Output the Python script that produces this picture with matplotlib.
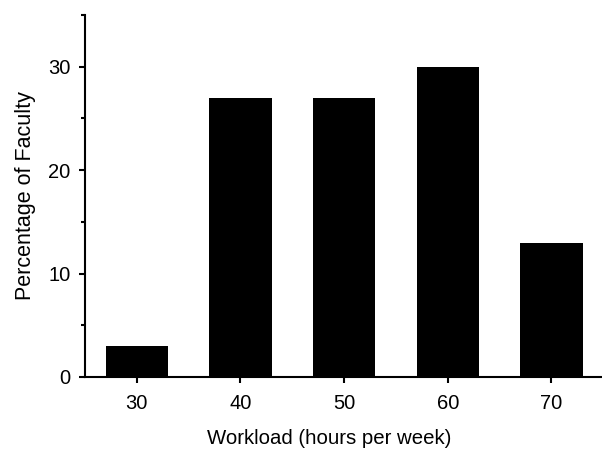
import matplotlib
matplotlib.use("Agg")
import matplotlib.pyplot as plt
from matplotlib.ticker import MultipleLocator

# workload bins (hours per week) and share of faculty (%)
workload = [30, 40, 50, 60, 70]
percent = [3, 27, 27, 30, 13]

plt.rcParams['font.family'] = ['Liberation Sans', 'DejaVu Sans']

fig = plt.figure(figsize=(6.02, 4.49), dpi=100)
ax = fig.add_axes([0.1412, 0.1604, 0.861, 0.8062])

ax.bar(workload, percent, width=6, color='black', edgecolor='none')

ax.set_xlim(25, 75)
ax.set_ylim(0, 35)
ax.set_xticks(workload)
ax.yaxis.set_major_locator(MultipleLocator(10))
ax.yaxis.set_minor_locator(MultipleLocator(5))

for side in ['top', 'right']:
    ax.spines[side].set_visible(False)
for side in ['left', 'bottom']:
    ax.spines[side].set_linewidth(1.5)

ax.tick_params(axis='both', which='major', length=4.5, width=1.5, labelsize=14.5)
ax.tick_params(axis='y', which='minor', length=3, width=1.5)
ax.tick_params(axis='x', pad=8)
ax.tick_params(axis='y', pad=6)

# x label sits low near the bottom edge as in the original
ax.set_xlabel('Workload (hours per week)', fontsize=14.7)
ax.xaxis.label.set_va('baseline')
ax.xaxis.set_label_coords(0.4706, -0.184)
ax.set_ylabel('Percentage of Faculty', fontsize=15.5, labelpad=9)

fig.savefig('out.png', dpi=100)
